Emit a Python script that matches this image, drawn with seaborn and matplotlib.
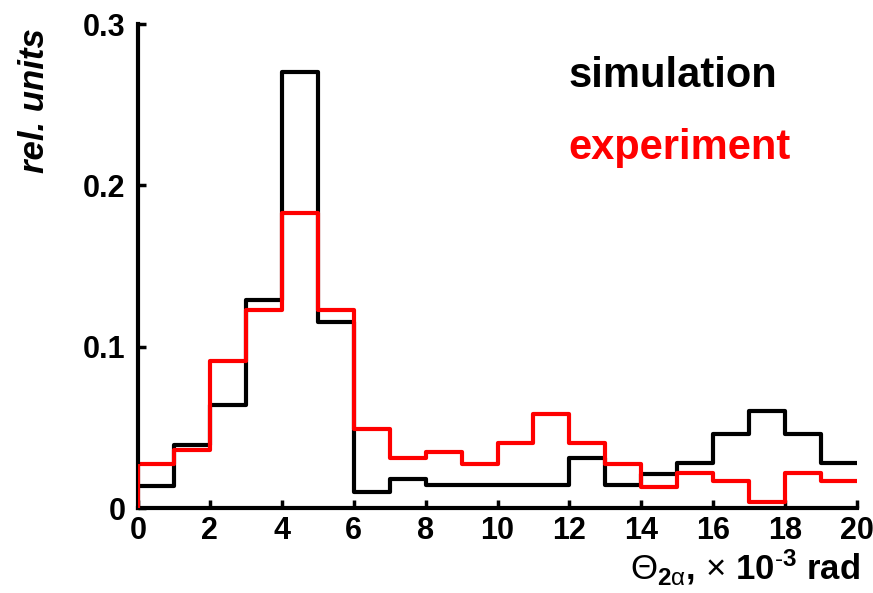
import numpy as np
import pandas as pd
import matplotlib
matplotlib.use("Agg")
import matplotlib.pyplot as plt
import seaborn as sns
from matplotlib import font_manager

# Histogram bin edges (x 10^-3 rad) and normalised counts per bin
bin_edges = list(range(0, 21))
simulation = [0.0135, 0.039, 0.064, 0.129, 0.270, 0.115, 0.010, 0.018,
              0.014, 0.014, 0.014, 0.014, 0.031, 0.014, 0.021, 0.028,
              0.046, 0.060, 0.046, 0.028]
experiment = [0.027, 0.036, 0.091, 0.123, 0.183, 0.123, 0.049, 0.031,
              0.035, 0.027, 0.040, 0.058, 0.040, 0.027, 0.013, 0.022,
              0.017, 0.004, 0.022, 0.017]
x_ticks = list(range(0, 21, 2))
y_ticks = [0, 0.1, 0.2, 0.3]
y_ticklabels = ["0", "0.1", "0.2", "0.3"]

sns.set_theme(style="ticks")
plt.rcParams["font.family"] = ["Liberation Sans", "DejaVu Sans"]
plt.rcParams["text.color"] = "black"
plt.rcParams["axes.labelcolor"] = "black"
plt.rcParams["mathtext.fontset"] = "custom"
plt.rcParams["mathtext.rm"] = "Liberation Sans"
plt.rcParams["mathtext.it"] = "Liberation Sans:italic"
plt.rcParams["mathtext.bf"] = "Liberation Sans:bold"

installed = {f.name for f in font_manager.fontManager.ttflist}
narrow = "Liberation Sans Narrow" if "Liberation Sans Narrow" in installed else "Liberation Sans"

centers = [(a + b) / 2 for a, b in zip(bin_edges[:-1], bin_edges[1:])]
df = pd.DataFrame({"theta": centers, "simulation": simulation,
                   "experiment": experiment})

fig = plt.figure(figsize=(8.73, 5.93), dpi=100)
ax = fig.add_axes([0.1581, 0.1433, 0.8236, 0.8162])

sns.histplot(data=df, x="theta", weights="simulation", bins=bin_edges,
             element="step", fill=False, color="black", linewidth=3.0, ax=ax)
sns.histplot(data=df, x="theta", weights="experiment", bins=bin_edges,
             element="step", fill=False, color="#ff0000", linewidth=3.0, ax=ax)
# left edge of the experimental histogram rises from the baseline
ax.plot([bin_edges[0], bin_edges[0]], [0, experiment[0]], color="#ff0000",
        linewidth=3.0, solid_capstyle="butt", zorder=5)

ax.set_xlim(bin_edges[0], bin_edges[-1])
ax.set_ylim(0, 0.3)
ax.set_xlabel("")
ax.set_ylabel("")

for side in ("top", "right"):
    ax.spines[side].set_visible(False)
for side in ("left", "bottom"):
    ax.spines[side].set_linewidth(3.0)
    ax.spines[side].set_color("black")

ax.set_xticks(x_ticks)
ax.set_xticklabels([str(t) for t in x_ticks], fontsize=22, fontweight="bold",
                   family=[narrow, "DejaVu Sans"])
ax.set_yticks(y_ticks)
ax.set_yticklabels(y_ticklabels, fontsize=22, fontweight="bold")
ax.tick_params(axis="x", direction="in", length=6, width=2.5, pad=6, colors="black")
ax.tick_params(axis="y", direction="in", length=6, width=2.5, pad=9, colors="black")

ax.text(0.599, 0.870, "simulation", transform=ax.transAxes, fontsize=30,
        fontweight="bold", color="black", ha="left", va="baseline")
ax.text(0.599, 0.721, "experiment", transform=ax.transAxes, fontsize=30,
        fontweight="bold", color="#ff0000", ha="left", va="baseline")

fig.text(860 / 873, 1 - 579 / 593,
         r"$\Theta_{\mathbf{2}\mathrm{\alpha}}$, $\times$ 10$^{\mathbf{\text{-}3}}$ rad",
         fontsize=25, fontweight="bold", color="black", ha="right", va="baseline")
fig.text(34 / 873, 1 - 101 / 593, "rel. units", fontsize=25,
         fontweight="bold", fontstyle="italic", rotation=90, color="black",
         ha="center", va="center")

fig.savefig("out.png", dpi=100)
